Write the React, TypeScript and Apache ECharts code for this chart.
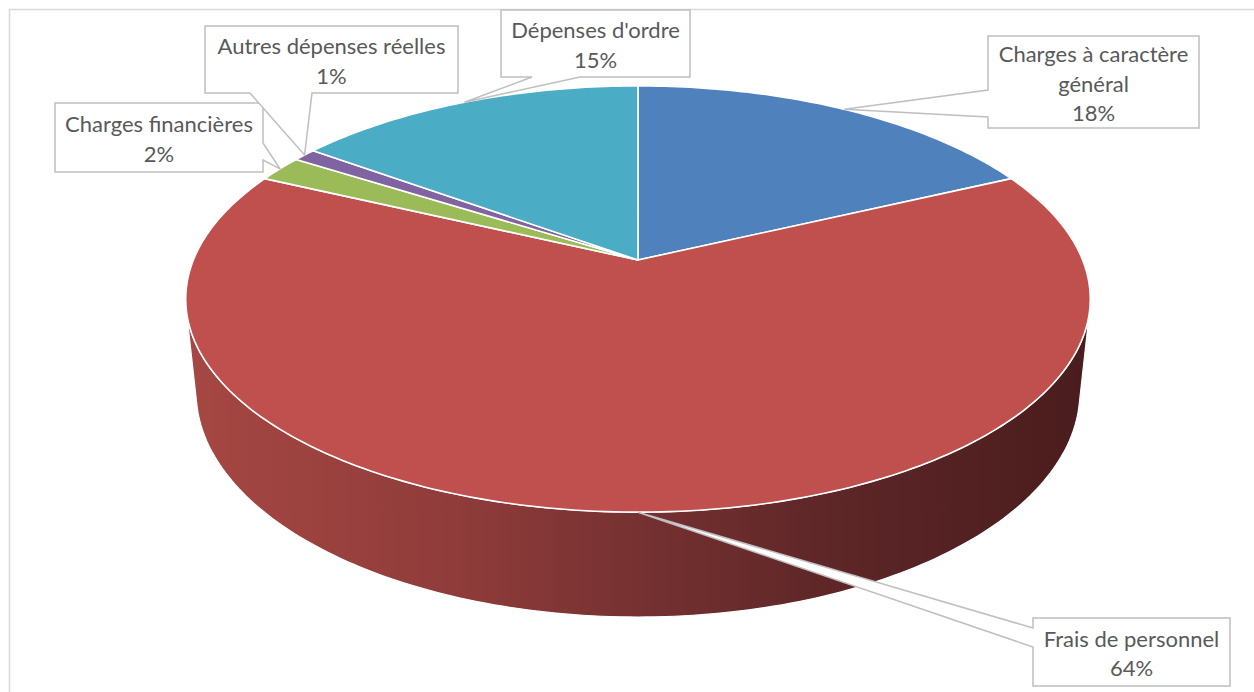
import React, { useEffect, useRef } from "react";
import * as echarts from "echarts";

// Budget de fonctionnement : répartition des dépenses
const categories = [
  "Charges à caractère\ngénéral",
  "Frais de personnel",
  "Charges financières",
  "Autres dépenses réelles",
  "Dépenses d'ordre",
];
const shares = [18, 64, 2, 1, 15];
const colors = ["#4f81bd", "#c0504d", "#9bbb59", "#8064a2", "#4bacc6"];

// Callout boxes: rectangle plus the edge (and span on it) the pointer leaves from
const callouts = [
  { x: 988, y: 36, w: 211, h: 92, side: "left", a: 90, b: 117 },
  { x: 1033, y: 618, w: 197, h: 68, side: "left", a: 628, b: 647 },
  { x: 55, y: 103, w: 208, h: 69, side: "right", a: 143, b: 160 },
  { x: 205, y: 26, w: 253, h: 67, side: "bottom", a: 250, b: 312 },
  { x: 501, y: 10, w: 189, h: 67, side: "bottom", a: 532, b: 580 },
];

// Perspective camera for the tilted disc
const CX = 638;
const CY = 260;
const FOCAL = 2152;
const DIST = 4.84;
const TILT = (27.6 * Math.PI) / 180;
const SN = Math.sin(TILT);
const CS = Math.cos(TILT);
const DEPTH = 0.238;

function project(phi: number, y3: number): number[] {
  const x3 = Math.sin(phi);
  const z3 = -Math.cos(phi);
  const d = DIST - (y3 * SN + z3 * CS);
  return [CX + (FOCAL * x3) / d, CY + (FOCAL * (z3 * SN - y3 * CS)) / d];
}

const total = shares.reduce((s, v) => s + v, 0);
const starts: number[] = [];
shares.reduce((acc, v) => {
  starts.push(acc);
  return acc + v;
}, 0);
const angleRange = (i: number) => {
  const a0 = (starts[i] / total) * Math.PI * 2;
  const a1 = ((starts[i] + shares[i]) / total) * Math.PI * 2;
  return [a0, a1];
};

function arcPoints(a0: number, a1: number, y3: number): number[][] {
  const n = Math.max(2, Math.ceil(((a1 - a0) * 180) / Math.PI));
  const pts: number[][] = [];
  for (let j = 0; j <= n; j++) pts.push(project(a0 + ((a1 - a0) * j) / n, y3));
  return pts;
}

// Front-facing part of the cylinder wall
const VIS = Math.acos(-1 / (DIST * CS));

export default function App() {
  const ref = useRef<HTMLDivElement>(null);

  useEffect(() => {
    if (!ref.current) return;
    const chart = echarts.init(ref.current, null, { renderer: "svg" });

    const sideFill = new echarts.graphic.LinearGradient(
      186,
      0,
      1092,
      0,
      [
        { offset: 0, color: "#a64743" },
        { offset: 0.3, color: "#8f3c3a" },
        { offset: 0.5, color: "#763131" },
        { offset: 0.72, color: "#5d2627" },
        { offset: 1, color: "#4a1c1d" },
      ],
      true
    );

    const option: any = {
      animation: false,
      backgroundColor: "#ffffff",
      graphic: [
        {
          type: "rect",
          shape: { x: 9.5, y: 9.5, width: 1300, height: 800 },
          style: { fill: "none", stroke: "#d9d9d9", lineWidth: 1.5 },
          silent: true,
        },
      ],
      series: [
        {
          type: "custom",
          coordinateSystem: "none",
          silent: true,
          z: 1,
          data: shares,
          renderItem: (params: any) => {
            const i = params.dataIndex;
            const [r0, r1] = angleRange(i);
            const a0 = Math.max(r0, VIS);
            const a1 = Math.min(r1, Math.PI * 2 - VIS);
            if (a1 <= a0) return { type: "group", children: [] };
            const top = arcPoints(a0, a1, 0);
            const bottom = arcPoints(a0, a1, -DEPTH).reverse();
            return {
              type: "polygon",
              shape: { points: top.concat(bottom) },
              style: {
                fill: i === 1 ? sideFill : colors[i],
                stroke: "#ffffff",
                lineWidth: 1.2,
                lineJoin: "round",
              },
            };
          },
        },
        {
          type: "custom",
          coordinateSystem: "none",
          silent: true,
          z: 2,
          data: shares,
          renderItem: (params: any) => {
            const i = params.dataIndex;
            const [a0, a1] = angleRange(i);
            const pts = [[CX, CY]].concat(arcPoints(a0, a1, 0));
            return {
              type: "polygon",
              shape: { points: pts },
              style: {
                fill: colors[i],
                stroke: "#ffffff",
                lineWidth: 1.6,
                lineJoin: "round",
              },
            };
          },
        },
        {
          type: "custom",
          coordinateSystem: "none",
          silent: true,
          z: 3,
          data: shares,
          renderItem: (params: any) => {
            const i = params.dataIndex;
            const [a0, a1] = angleRange(i);
            const target = project((a0 + a1) / 2, 0);
            const b = callouts[i];
            const L = b.x, T = b.y, R = b.x + b.w, B = b.y + b.h;
            let pts: number[][];
            if (b.side === "left") {
              pts = [[L, T], [R, T], [R, B], [L, B], [L, b.b], target, [L, b.a]];
            } else if (b.side === "right") {
              pts = [[L, T], [R, T], [R, b.a], target, [R, b.b], [R, B], [L, B]];
            } else {
              pts = [[L, T], [R, T], [R, B], [b.b, B], target, [b.a, B], [L, B]];
            }
            const pct = Math.round((shares[i] / total) * 100) + "%";
            return {
              type: "group",
              children: [
                {
                  type: "polygon",
                  shape: { points: pts },
                  style: {
                    fill: "#ffffff",
                    stroke: "#bfbfbf",
                    lineWidth: 1.5,
                    lineJoin: "miter",
                  },
                },
                {
                  type: "text",
                  style: {
                    text: categories[i] + "\n" + pct,
                    x: (L + R) / 2,
                    y: (T + B) / 2 + 1,
                    align: "center",
                    verticalAlign: "middle",
                    fill: "#595959",
                    fontFamily: "Lato",
                    fontSize: 22,
                    lineHeight: 29.5,
                  },
                },
              ],
            };
          },
        },
      ],
    };

    chart.setOption(option);
    return () => chart.dispose();
  }, []);

  return (
    <div
      ref={ref}
      style={{ position: "absolute", left: 0, top: 0, width: 1254, height: 692 }}
    />
  );
}
